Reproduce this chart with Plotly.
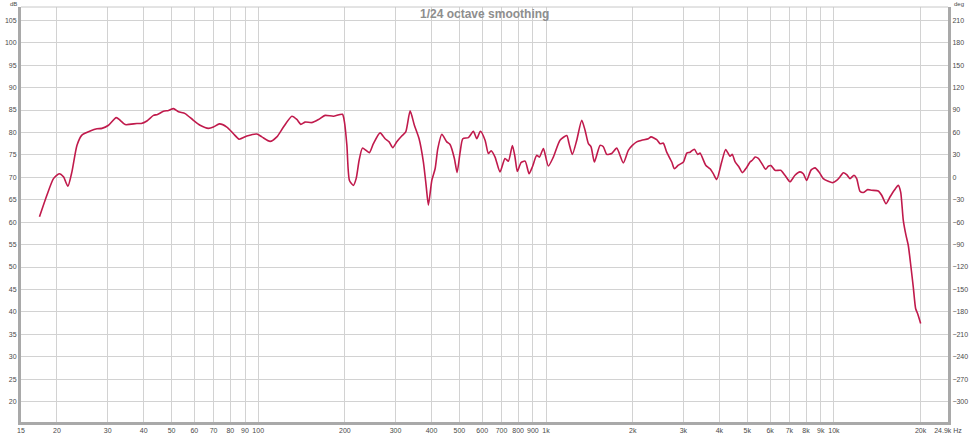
import plotly.graph_objects as go
import math

freq_hz = [17.39, 18.45, 19.45, 20.36, 21.07, 21.83, 22.54, 23.46, 24.41, 26.09,
           27.53, 28.65, 30.20, 32.12, 33.16, 34.51, 37.91, 39.24, 41.06, 43.28,
           44.69, 46.89, 48.80, 50.78, 52.85, 55.76, 59.57, 62.84, 67.17, 69.90,
           73.35, 77.82, 82.04, 85.87, 91.30, 98.9,
           103.0, 110.0, 116.1, 122.4, 130.9, 136.2, 140.6, 145.6, 153.6, 162.0,
           170.9, 182.5, 196.2, 199.4, 203.3, 207.5, 214.2, 218.9, 224.2, 230.2,
           237.1, 243.4, 251.3, 265.1, 276.0, 285.0, 293.5, 303.0, 315.2, 325.5,
           337.1, 348.8, 362.2, 374.9, 383.1, 390.2, 401.0, 411.7, 420.7, 434.4,
           451.9, 464.0, 480.3, 490.8, 502.9, 513.9, 537.3, 559.2, 574.6, 591.4,
           614.0, 630.4, 644.2,
           665, 692, 720, 740, 764, 780, 795, 819, 846, 873,
           896, 928, 948, 979, 1018, 1060, 1118, 1180, 1202, 1234,
           1278, 1330, 1366, 1403, 1433, 1472, 1540, 1581, 1625, 1691,
           1760, 1856, 1931, 1994, 2065, 2149, 2266, 2315, 2423, 2488,
           2555, 2625, 2733, 2790, 2880, 3000, 3082, 3165, 3273, 3363,
           3426, 3586, 3711, 3810, 3915, 4074, 4207, 4354, 4436, 4532,
           4680, 4806, 4977, 5110, 5205, 5319, 5462, 5611, 5793, 5915,
           6044, 6241, 6531, 6759, 7036, 7321, 7621, 7827, 8043, 8324,
           8595, 8873, 9182, 9557, 9899, 10220, 10496, 10776, 11072, 11370,
           11738, 11995, 12314, 12644, 13098, 13524, 14256, 14650, 15162, 15652,
           16203, 16730, 17054, 17413, 17790, 18121, 18517, 18860, 19225, 19534,
           20010]

spl_db = [61.2, 66.0, 69.7, 70.8, 70.1, 68.0, 71.2, 77.1, 79.4, 80.3,
          80.8, 80.9, 81.6, 83.3, 82.7, 81.75, 82.0, 82.0, 82.55, 83.8,
          84.0, 84.7, 84.9, 85.3, 84.6, 84.2, 82.7, 81.6, 80.9, 81.2,
          81.9, 81.2, 79.7, 78.5, 79.2, 79.65,
          79.0, 78.0, 79.0, 81.2, 83.6, 82.9, 81.8, 82.3, 82.2, 82.9,
          83.8, 83.6, 84.05, 82.3, 77.1, 69.3, 68.2, 69.7, 73.8, 76.5,
          76.0, 75.5, 77.5, 79.9, 78.6, 77.9, 76.6, 77.9, 79.2, 80.1,
          84.8, 81.6, 78.6, 73.4, 68.2, 63.8, 69.3, 71.9, 76.4, 79.6,
          77.9, 77.3, 74.2, 71.05, 75.6, 78.6, 78.85, 80.25, 78.6, 80.25,
          78.25, 75.3, 75.9,
          74.5, 71.2, 74.2, 73.6, 77.1, 74.5, 71.3, 73.3, 73.6, 70.8,
          72.3, 74.9, 74.5, 76.4, 72.5, 74.5, 78.25, 79.3, 77.5, 75.1,
          78.25, 82.7, 80.5, 77.5, 76.8, 73.4, 77.1, 76.8, 75.1, 75.3,
          76.5, 73.2, 76.0, 77.1, 77.9, 78.25, 78.6, 79.0, 78.4, 77.5,
          77.6, 75.6, 73.4, 71.9, 72.7, 73.4, 75.4, 75.6, 76.25, 75.1,
          75.4, 72.7, 71.9, 70.8, 69.5, 73.4, 76.2, 74.7, 75.1, 73.5,
          72.3, 71.05, 72.2, 73.4, 73.8, 74.5, 74.2, 73.1, 71.8, 72.45,
          72.6, 71.55, 71.55, 70.45, 69.0, 70.45, 71.2, 70.8, 69.3, 71.6,
          72.1, 71.2, 69.7, 69.1, 68.8, 69.3, 70.1, 71.0, 70.6, 69.7,
          70.45, 69.7, 66.9, 66.6, 67.25, 67.1, 66.95, 66.0, 64.1, 65.6,
          67.1, 68.2, 66.7, 60.4, 57.1, 54.85, 50.0, 45.55, 40.7, 39.6,
          37.4]

x_tick_vals = [15, 20, 30, 40, 50, 60, 70, 80, 90, 100, 200, 300, 400, 500, 600,
               700, 800, 900, 1000, 2000, 3000, 4000, 5000, 6000, 7000, 8000,
               9000, 10000, 20000, 24900]
x_tick_text = ["15", "20", "30", "40", "50", "60", "70", "80", "90", "100", "200",
               "300", "400", "500", "600", "700", "800", "900", "1k", "2k", "3k",
               "4k", "5k", "6k", "7k", "8k", "9k", "10k", "20k", "24.9k Hz"]
db_ticks = [20, 25, 30, 35, 40, 45, 50, 55, 60, 65, 70, 75, 80, 85, 90, 95, 100, 105]
deg_ticks = [-300, -270, -240, -210, -180, -150, -120, -90, -60, -30, 0, 30, 60,
             90, 120, 150, 180, 210]

db_range = [15.45, 107.96]
# phase axis: 0 deg at 70 dB, 30 deg per 5 dB
deg_range = [(v - 70) * 6 for v in db_range]

FONT = "Liberation Sans, Arial, sans-serif"
GRID = "#d2d2d2"
AXIS = "#a9a9a9"
TXT = "#4a4a4a"

fig = go.Figure()
fig.add_trace(go.Scatter(x=freq_hz, y=spl_db, mode="lines",
                         line=dict(color="#c01a4c", width=1.6, shape="spline", smoothing=0.6),
                         showlegend=False, hoverinfo="skip"))
# invisible trace to activate secondary axis
fig.add_trace(go.Scatter(x=[1000], y=[0], yaxis="y2", mode="markers",
                         marker=dict(opacity=0), showlegend=False, hoverinfo="skip"))

fig.update_layout(
    width=975, height=434,
    margin=dict(l=21, r=27, t=7, b=12),
    paper_bgcolor="white", plot_bgcolor="white",
    font=dict(family=FONT, size=7, color=TXT),
    xaxis=dict(type="log", range=[math.log10(15), math.log10(24900)],
               tickvals=x_tick_vals, ticktext=x_tick_text, tickangle=0,
               showgrid=True, gridcolor=GRID, gridwidth=1,
               showline=True, linecolor=AXIS, linewidth=3,
               ticks="", tickfont=dict(size=7, color=TXT), zeroline=False,
               automargin=False),
    yaxis=dict(range=db_range, tickvals=db_ticks, showgrid=True, gridcolor=GRID,
               gridwidth=1, showline=True, linecolor=AXIS, linewidth=3,
               ticks="", tickfont=dict(size=7, color=TXT), zeroline=False,
               automargin=False),
    yaxis2=dict(range=deg_range, tickvals=deg_ticks, overlaying="y", side="right",
                showgrid=False, showline=True, linecolor=AXIS, linewidth=3,
                ticks="", tickfont=dict(size=7, color=TXT), zeroline=False,
                automargin=False),
    shapes=[dict(type="line", xref="paper", yref="paper", x0=0, x1=1, y0=1, y1=1,
                 line=dict(color="#c8c8c8", width=1))],
    annotations=[
        dict(text="<b>1/24 octave smoothing</b>", xref="paper", yref="paper",
             x=0.5, y=0.983, showarrow=False, xanchor="center", yanchor="middle",
             font=dict(family=FONT, size=12, color="#8e8e8e")),
        dict(text="dB", xref="paper", yref="paper", x=-0.003, y=1.0169, showarrow=False,
             xanchor="right", yanchor="top", font=dict(size=6, color=TXT),
             borderpad=0),
        dict(text="deg", xref="paper", yref="paper", x=1.005, y=1.0169, showarrow=False,
             xanchor="left", yanchor="top", font=dict(size=6, color=TXT),
             borderpad=0),
    ],
)

fig.write_html("out.html",
               config={"displayModeBar": False},
               post_script="document.body.style.margin='0';document.body.style.overflow='hidden';")
